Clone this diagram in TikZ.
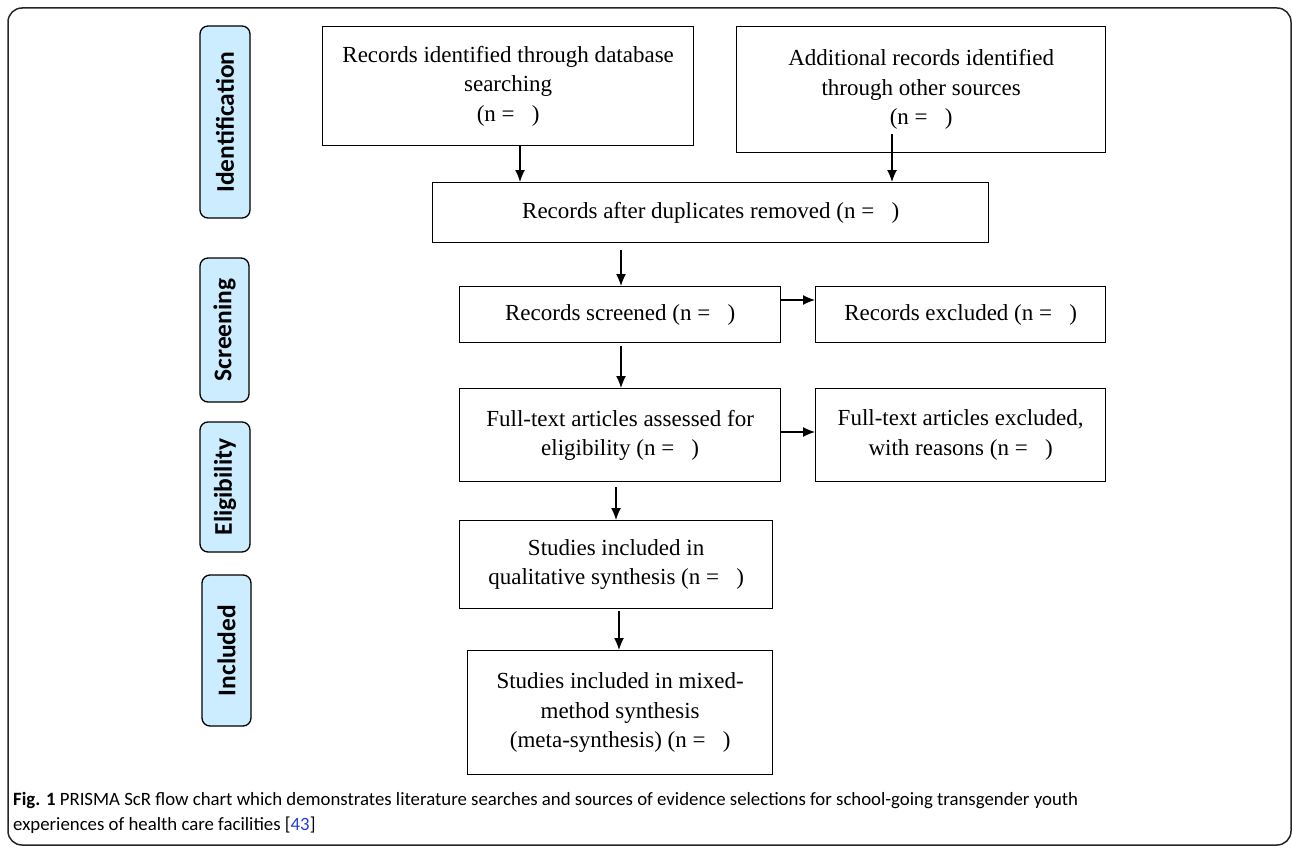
\documentclass[tikz,border=0pt]{standalone}
\usepackage{fontspec}
\setmainfont{Liberation Serif}
\newfontfamily\sidefont{Carlito}
\usetikzlibrary{arrows.meta}
\definecolor{sideblue}{RGB}{204,236,255}
\definecolor{linkblue}{RGB}{40,60,220}
\begin{document}
\begin{tikzpicture}[x=1pt,y=-1pt,
  box/.style={draw,line width=1.3pt,inner sep=0pt,anchor=north west,align=center,
    font=\fontsize{23}{29.5}\selectfont},
  side/.style={draw,line width=1.3pt,fill=sideblue,rounded corners=8pt,rotate=90,
    inner sep=0pt,font=\sidefont\bfseries\fontsize{25.5}{28}\selectfont},
  arr/.style={line width=1.3pt,-{Latex[length=12pt,width=10pt]}}]
\useasboundingbox (0,0) rectangle (1292,848);
\draw[line width=1.5pt,black!85,rounded corners=14pt] (8,8) rectangle (1291,845);
% side labels
\node[side,minimum width=192pt,minimum height=50pt] (sid) at (225,122) {Identification};
\node[side,minimum width=144pt,minimum height=49pt] (ssc) at (224.5,330) {Screening};
\node[side,minimum width=130pt,minimum height=50pt] (sel) at (225,487) {Eligibility};
\node[side,minimum width=151pt,minimum height=49pt] (sin) at (226.5,650.5) {Included};
% boxes
\node[box,minimum width=371pt,minimum height=119pt] (b1) at (322,26)
  {Records identified through database\\searching\\(n =\ \ \ )};
\node[box,minimum width=369pt,minimum height=126pt] (b2) at (736,26)
  {Additional records identified\\through other sources\\(n =\ \ \ )};
\node[box,minimum width=556pt,minimum height=60pt] (b3) at (432,182)
  {Records after duplicates removed (n =\ \ \ )};
\node[box,minimum width=321pt,minimum height=56pt] (b4) at (459,286)
  {Records screened (n =\ \ \ )};
\node[box,minimum width=290pt,minimum height=56pt] (b5) at (815,286)
  {Records excluded (n =\ \ \ )};
\node[box,minimum width=321pt,minimum height=93pt] (b6) at (459,388)
  {Full-text articles assessed for\\eligibility (n =\ \ \ )};
\node[box,minimum width=290pt,minimum height=93pt] (b7) at (815,388)
  {Full-text articles excluded,\\with reasons (n =\ \ \ )};
\node[box,minimum width=313pt,minimum height=88pt] (b8) at (459,520)
  {Studies included in\\qualitative synthesis (n =\ \ \ )};
\node[box,minimum width=305pt,minimum height=124pt] (b9) at (467,650)
  {Studies included in mixed-\\method synthesis\\(meta-synthesis) (n =\ \ \ )};
% arrows
\draw[arr] (b1.south -| 520,0) -- (b3.north -| 520,0);
\draw[arr] (892,134) coordinate (c2) -- (b3.north -| c2);
\draw[arr] (621,250) coordinate (c3) -- (b4.north -| c3);
\draw[arr] (b4.east |- 0,300) coordinate (c4) -- (b5.west |- c4);
\draw[arr] (621,346) coordinate (c5) -- (b6.north -| c5);
\draw[arr] (b6.east |- 0,432) coordinate (c6) -- (b7.west |- c6);
\draw[arr] (616,487) coordinate (c7) -- (b8.north -| c7);
\draw[arr] (619,611) coordinate (c8) -- (b9.north -| c8);
% caption
\node[anchor=north west,inner sep=0pt,align=left,
  font=\sidefont\fontsize{18.8}{25}\selectfont] (cap) at (13,792)
  {\textbf{Fig. 1} PRISMA ScR flow chart which demonstrates literature searches and sources of evidence selections for school-going transgender youth\\
   experiences of health care facilities [\textcolor{linkblue}{43}]};
\end{tikzpicture}
\end{document}
